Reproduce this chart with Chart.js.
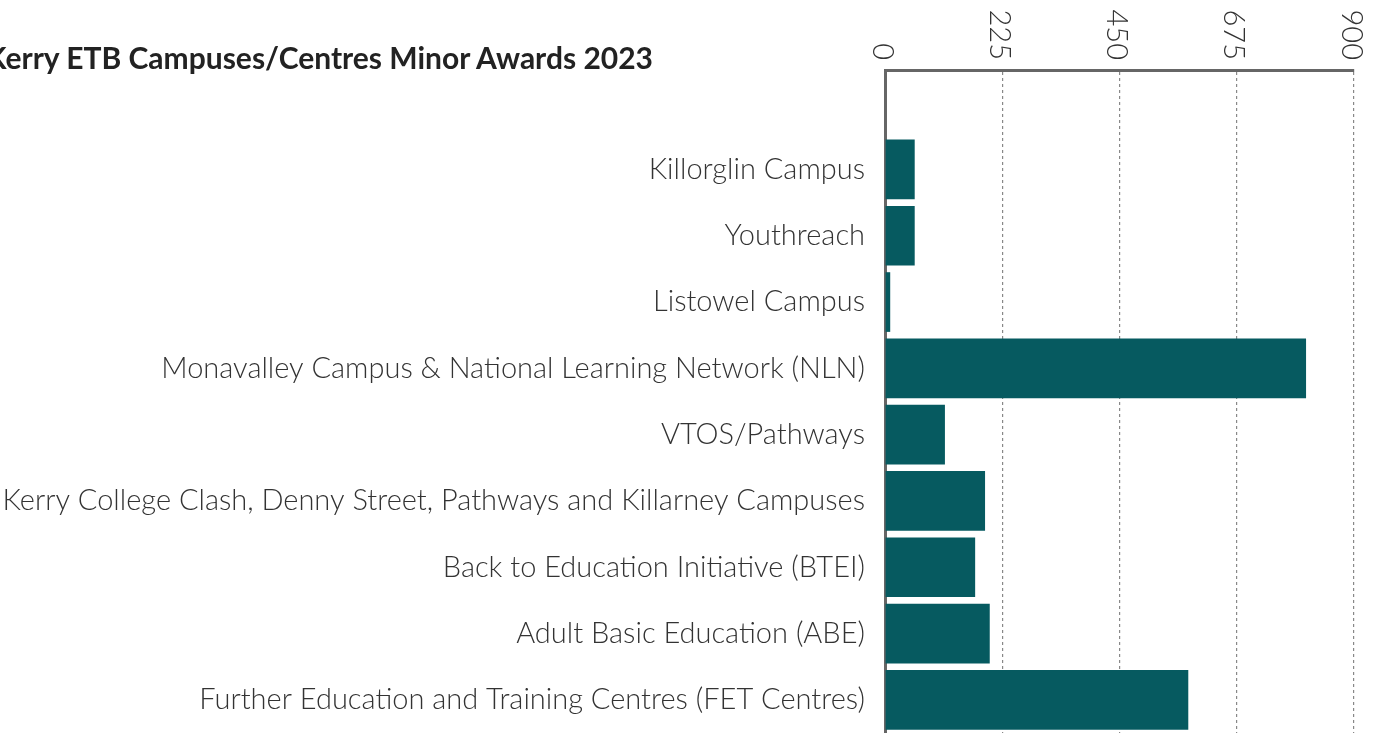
<!DOCTYPE html>
<html>
<head>
<meta charset="utf-8">
<script src="https://cdn.jsdelivr.net/npm/chart.js@4.4.1/dist/chart.umd.min.js"></script>
<style>
  html, body { margin: 0; padding: 0; background: #fff; overflow: hidden; }
  #wrap { position: absolute; left: 0; top: 0; width: 1379px; height: 733px; }
  #title { position: absolute; left: -14px; top: 37px; font-family: Lato, sans-serif; font-weight: 700;
           font-size: 30px; line-height: 40px; color: #222; white-space: nowrap; z-index: 2; }
</style>
</head>
<body>
<div id="title">Kerry ETB Campuses/Centres Minor Awards 2023</div>
<div id="wrap"><canvas id="c" width="1379" height="733"></canvas></div>
<script>
const categories = [
  'Killorglin Campus',
  'Youthreach',
  'Listowel Campus',
  'Monavalley Campus & National Learning Network (NLN)',
  'VTOS/Pathways',
  'Kerry College Clash, Denny Street, Pathways and Killarney Campuses',
  'Back to Education Initiative (BTEI)',
  'Adult Basic Education (ABE)',
  'Further Education and Training Centres (FET Centres)'
];
const awards = [57, 57, 10, 808, 115, 192, 173, 201, 582];
const xTickValues = [0, 225, 450, 675, 900];

const BAR = '#065a60';
const AXIS = '#666666';
const FONT = 'Lato, sans-serif';

const topTickLabels = {
  id: 'topTickLabels',
  afterDraw(chart) {
    const s = chart.scales.x;
    const ctx = chart.ctx;
    ctx.save();
    ctx.fillStyle = '#333';
    ctx.font = '300 29px ' + FONT;
    ctx.textAlign = 'right';
    ctx.textBaseline = 'middle';
    s.ticks.forEach(t => {
      const x = s.getPixelForValue(t.value) - 3;
      ctx.save();
      ctx.translate(x, 60);
      ctx.rotate(Math.PI / 2);
      ctx.fillText(String(t.value), 0, 0);
      ctx.restore();
    });
    ctx.restore();
  }
};

new Chart(document.getElementById('c'), {
  type: 'bar',
  plugins: [topTickLabels],
  data: {
    labels: [''].concat(categories),
    datasets: [{
      data: [null].concat(awards),
      backgroundColor: BAR,
      borderWidth: 0,
      barPercentage: 0.9,
      categoryPercentage: 1.0
    }]
  },
  options: {
    indexAxis: 'y',
    responsive: false,
    animation: false,
    layout: { padding: { left: 0, right: 25, top: 0, bottom: 0 } },
    plugins: { legend: { display: false }, title: { display: false }, tooltip: { enabled: false } },
    scales: {
      x: {
        position: 'top',
        min: 0, max: 900,
        afterBuildTicks(scale) { scale.ticks = xTickValues.map(v => ({ value: v })); },
        afterFit(scale) { scale.height = 70; scale.paddingLeft = 0; scale.paddingRight = 0; },
        ticks: { display: false },
        grid: { color: '#888', lineWidth: 1.2, drawTicks: false },
        border: { display: true, color: AXIS, width: 3, dash: [3, 3] }
      },
      y: {
        afterFit(scale) { scale.width = 885; scale.paddingTop = 0; scale.paddingBottom = 0; },
        ticks: { color: '#333', font: { family: FONT, size: 29, weight: '300' }, padding: 20, autoSkip: false },
        grid: { display: false, drawTicks: false },
        border: { display: true, color: AXIS, width: 3 }
      }
    }
  }
});
</script>
</body>
</html>
